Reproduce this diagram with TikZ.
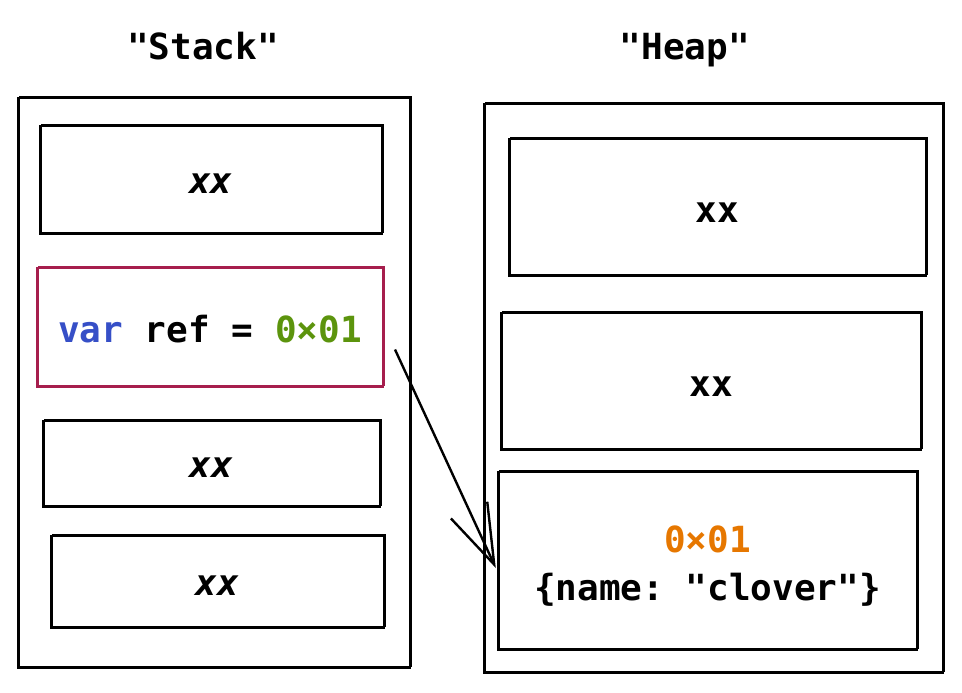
\documentclass[tikz,border=0pt]{standalone}
\usepackage{fontspec}
\setmonofont{DejaVu Sans Mono}
\usetikzlibrary{positioning,arrows.meta}
\definecolor{kwblue}{HTML}{364FC7}
\definecolor{numgreen}{HTML}{5C940D}
\definecolor{addrorange}{HTML}{E67700}
\definecolor{refred}{HTML}{A61E4D}
\tikzstyle{cell}=[draw, line width=2.4pt, inner sep=0pt,
	postaction={draw, line width=1pt, transform canvas={shift={(1.5pt,1.2pt)}}}]
\tikzstyle{code}=[font=\ttfamily\bfseries\fontsize{36}{48}\selectfont]
\tikzstyle{xxtext}=[text height=27pt, text depth=0pt]
\tikzstyle{arrow}=[line width=2.4pt,-{Straight Barb[length=60pt,width=40pt,line width=2.4pt]}]

\begin{document}
\begin{tikzpicture}[x=1pt,y=-1pt,code]
\useasboundingbox (0,0) rectangle (962,693);
% stack side
\node (stacklabel) at (203,46) {"Stack"};
\node (stack) at (214,383) [cell, minimum width=392pt, minimum height=570pt] {};
\node (s1) at (211,180) [cell, xxtext, minimum width=342pt, minimum height=108pt] {\itshape xx};
\node (s2) at (210,327.5) [cell, draw=refred, line width=2pt, text height=30pt, text depth=0pt,
	minimum width=346pt, minimum height=119pt]
	{\textcolor{kwblue}{var} ref = \textcolor{numgreen}{0×01}};
\node (s3) at (211.5,464) [cell, xxtext, minimum width=337pt, minimum height=86pt] {\itshape xx};
\node (s4) at (217.5,582) [cell, xxtext, minimum width=333pt, minimum height=92pt] {\itshape xx};
% heap side
\node (heaplabel) at (685,50) {"Heap"};
\node (heap) at (713.5,388.5) [cell, minimum width=459pt, minimum height=569pt] {};
\node (h1) at (717.5,207.5) [cell, xxtext, text height=29pt, minimum width=417pt, minimum height=137pt] {xx};
\node (h2) at (711,381.5) [cell, xxtext, text height=29pt, minimum width=420pt, minimum height=137pt] {xx};
\node (h3) at (707.5,561) [cell, minimum width=419pt, minimum height=178pt] {};
\node (h3text) at ([yshift=-5pt]h3.center) [align=center]
	{\textcolor{addrorange}{0×01}\\\{name: "clover"\}};
% reference
\coordinate (refstart) at ([xshift=11pt,yshift=-22pt]s2.east);
\coordinate (refend) at ([xshift=-1pt,yshift=-7pt]h3.west);
\draw[arrow] (refstart) -- (refend);
\end{tikzpicture}
\end{document}
